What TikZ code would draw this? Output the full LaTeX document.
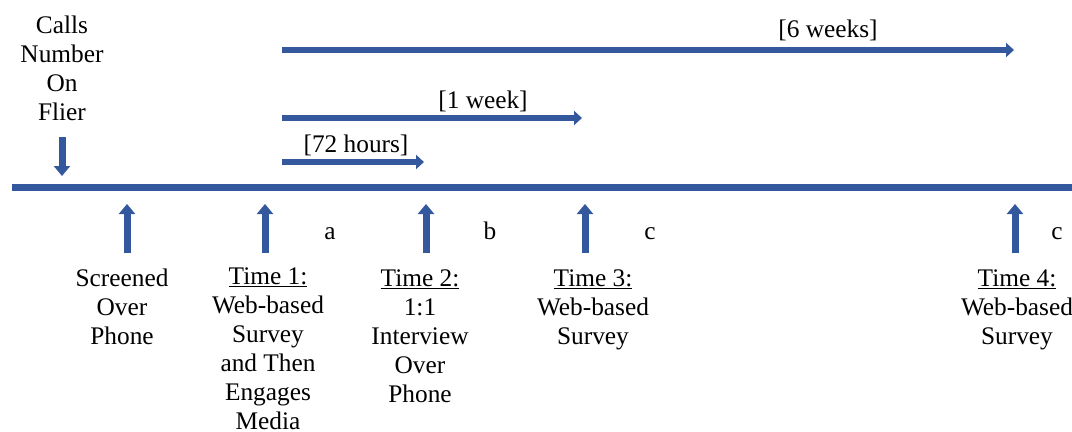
\documentclass[tikz,border=0pt]{standalone}
\usepackage{fontspec}
\setmainfont{Liberation Serif}
\usetikzlibrary{arrows.meta}
\definecolor{tlblue}{RGB}{52,88,158}
\tikzset{
  txt/.style={inner sep=0pt, anchor=base, align=center, font=\fontsize{19}{21.75}\selectfont},
  bar/.style={draw=tlblue, line width=5.25pt},
  blockarrow/.style={draw=tlblue, line width=4.5pt, -{Triangle[width=10.5pt,length=6pt]}},
  vblockarrow/.style={draw=tlblue, line width=5.25pt, -{Triangle[width=12pt,length=7.5pt]}},
}
\begin{document}
\begin{tikzpicture}[x=0.75pt,y=-0.75pt]
\useasboundingbox (0,0) rectangle (1072,432);
% main timeline
\coordinate (tlL) at (12,187);
\coordinate (tlR) at (1072,187);
\draw[bar] (tlL) -- (tlR);
% top left (anchor = baseline of last line)
\node[txt] (calls) at (62,120) {Calls\\Number\\On\\Flier};
\coordinate (dA) at (62,137);
\coordinate (dB) at (62,176);
\draw[vblockarrow] (dA) -- (dB);
% duration arrows
\coordinate (s6) at (282,50);  \coordinate (e6) at (1014,50);
\coordinate (s1) at (282,118); \coordinate (e1) at (582,118);
\coordinate (s72) at (282,162); \coordinate (e72) at (424,162);
\draw[blockarrow] (s6) -- (e6);
\draw[blockarrow] (s1) -- (e1);
\draw[blockarrow] (s72) -- (e72);
\node[txt] (l6) at (828,37) {[6 weeks]};
\node[txt] (l1) at (483,108) {[1 week]};
\node[txt] (l72) at (356,152) {[72 hours]};
% up arrows
\foreach \n/\x in {u0/127,u1/265,u2/426,u3/585,u4/1015}{
  \coordinate (\n b) at (\x,253);
  \coordinate (\n t) at (\x,204);
  \draw[vblockarrow] (\n b) -- (\n t);
}
% letters
\node[txt] (la) at (330,239) {a};
\node[txt] (lb) at (490,239) {b};
\node[txt] (lc) at (650,239) {c};
\node[txt] (ld) at (1057,239) {c};
% bottom labels (anchor = baseline of last line)
\node[txt] (scr) at (122,344) {Screened\\Over\\Phone};
\node[txt] (t1) at (268,429) {\underline{Time 1:}\\Web-based\\Survey\\and Then\\Engages\\Media};
\node[txt] (t2) at (420,402) {\underline{Time 2:}\\1:1\\Interview\\Over\\Phone};
\node[txt] (t3) at (593,344) {\underline{Time 3:}\\Web-based\\Survey};
\node[txt] (t4) at (1017,344) {\underline{Time 4:}\\Web-based\\Survey};
\end{tikzpicture}
\end{document}
